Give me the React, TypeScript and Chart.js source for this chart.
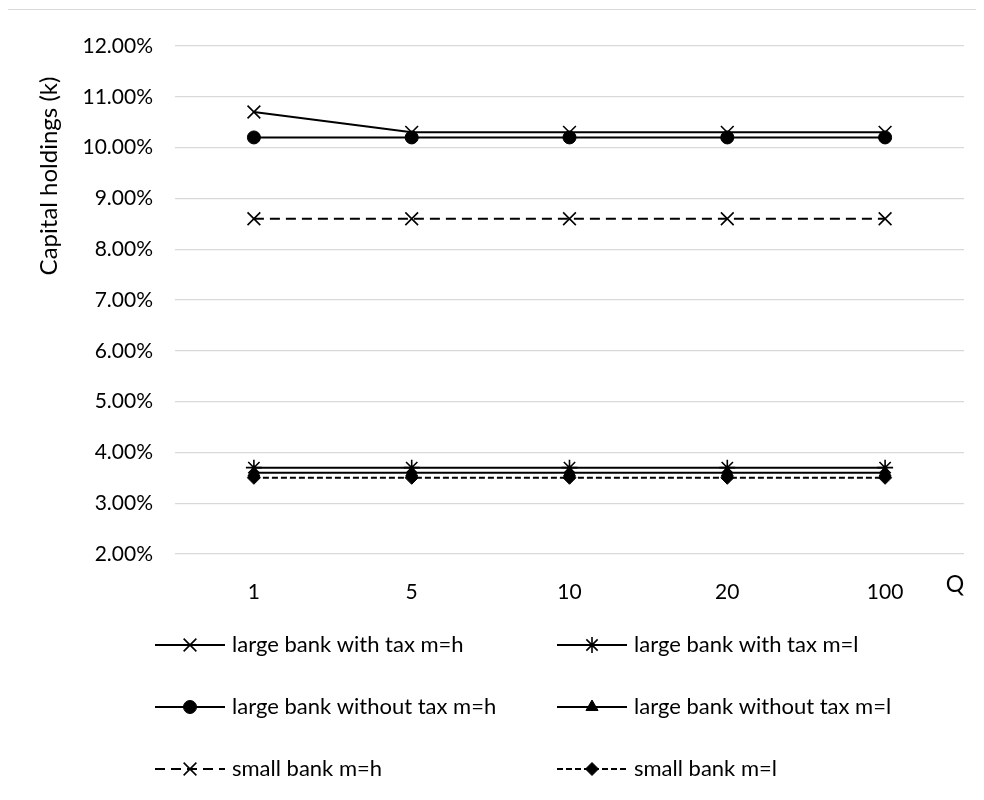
import React, { useEffect, useRef } from 'react';
import { Chart, registerables } from 'chart.js';
import { drawPoint } from 'chart.js/helpers';

Chart.register(...registerables);

const categories = ['1', '5', '10', '20', '100'];
const largeTaxH = [10.7, 10.3, 10.3, 10.3, 10.3];
const largeTaxL = [3.7, 3.7, 3.7, 3.7, 3.7];
const largeNoTaxH = [10.2, 10.2, 10.2, 10.2, 10.2];
const largeNoTaxL = [3.6, 3.6, 3.6, 3.6, 3.6];
const smallH = [8.6, 8.6, 8.6, 8.6, 8.6];
const smallL = [3.5, 3.5, 3.5, 3.5, 3.5];
const seriesLabels = [
  'large bank with tax m=h',
  'large bank with tax m=l',
  'large bank without tax m=h',
  'large bank without tax m=l',
  'small bank m=h',
  'small bank m=l',
];
const yMin = 2;
const yMax = 12;
const yStep = 1;
const yTitle = 'Capital holdings (k)';
const xTitle = 'Q';

const FONT = 'Lato, "Open Sans", sans-serif';
const TICK_FS = 21;
const LEG_FS = 22;
const TITLE_FS = 24;

const overlay = {
  id: 'overlay',
  afterDraw(chart: any) {
    const ctx = chart.ctx;
    ctx.save();
    ctx.fillStyle = '#000';
    // y title
    ctx.save();
    ctx.font = `${TITLE_FS}px ${FONT}`;
    ctx.translate(41, 168);
    ctx.rotate(-Math.PI / 2);
    ctx.textAlign = 'center';
    ctx.textBaseline = 'middle';
    ctx.fillText(yTitle, 0, 0);
    ctx.restore();
    // x title
    ctx.font = `${LEG_FS + 1}px ${FONT}`;
    ctx.textAlign = 'center';
    ctx.textBaseline = 'middle';
    ctx.fillText(xTitle, 947, 577);
    // legend
    ctx.font = `${LEG_FS}px ${FONT}`;
    ctx.textAlign = 'left';
    const colX = [147, 549];
    const rowY = [637, 699, 761];
    chart.data.datasets.forEach((ds: any, i: number) => {
      const x0 = colX[i % 2];
      const y = rowY[Math.floor(i / 2)];
      ctx.save();
      ctx.strokeStyle = ds.borderColor;
      ctx.lineWidth = ds.borderWidth;
      ctx.setLineDash(ds.borderDash || []);
      ctx.beginPath();
      ctx.moveTo(x0, y);
      ctx.lineTo(x0 + 70, y);
      ctx.stroke();
      ctx.setLineDash([]);
      ctx.fillStyle = ds.pointBackgroundColor;
      ctx.strokeStyle = ds.pointBorderColor;
      ctx.lineWidth = ds.pointBorderWidth;
      drawPoint(ctx, { pointStyle: ds.pointStyle, radius: ds.pointRadius, rotation: 0, borderWidth: ds.pointBorderWidth }, x0 + 35, y);
      ctx.restore();
      ctx.fillStyle = '#000';
      ctx.textBaseline = 'middle';
      ctx.fillText(ds.label, x0 + 77, y);
    });
    ctx.restore();
  },
};

function mk(label: string, data: number[], style: string, radius: number, dash: number[], filled: boolean) {
  return {
    label,
    data,
    borderColor: '#000',
    borderWidth: 2,
    borderDash: dash,
    pointStyle: style,
    pointRadius: radius,
    pointHoverRadius: radius,
    pointBackgroundColor: '#000',
    pointBorderColor: '#000',
    pointBorderWidth: filled ? 1 : 1.6,
    tension: 0,
    fill: false,
  };
}

export default function App() {
  const ref = useRef<HTMLCanvasElement>(null);
  useEffect(() => {
    if (!ref.current) return;
    const chart = new Chart(ref.current, {
      type: 'line',
      data: {
        labels: categories,
        datasets: [
          mk(seriesLabels[0], largeTaxH, 'crossRot', 9, [], false),
          mk(seriesLabels[1], largeTaxL, 'star', 8, [], false),
          mk(seriesLabels[2], largeNoTaxH, 'circle', 6.5, [], true),
          mk(seriesLabels[3], largeNoTaxL, 'triangle', 7, [], true),
          mk(seriesLabels[4], smallH, 'crossRot', 9, [10, 6], false),
          mk(seriesLabels[5], smallL, 'rectRot', 6.5, [6, 3], true),
        ],
      },
      options: {
        animation: false,
        responsive: false,
        devicePixelRatio: 1,
        events: [],
        layout: { padding: { top: 38, right: 20, left: 0, bottom: 0 } },
        plugins: { legend: { display: false }, tooltip: { enabled: false } },
        scales: {
          x: {
            type: 'category',
            offset: true,
            grid: { display: false },
            border: { display: false },
            ticks: { color: '#000', font: { family: FONT, size: TICK_FS }, padding: 18, maxRotation: 0 },
            afterFit: (s: any) => { s.height = 238; },
          },
          y: {
            min: yMin,
            max: yMax,
            grid: { color: '#d9d9d9', lineWidth: 1.3, drawTicks: false },
            border: { display: false },
            ticks: {
              stepSize: yStep,
              color: '#000',
              font: { family: FONT, size: TICK_FS },
              padding: 22,
              callback: (v: any) => Number(v).toFixed(2) + '%',
            },
            afterFit: (s: any) => { s.width = 167; },
          },
        },
      },
      plugins: [overlay],
    });
    return () => chart.destroy();
  }, []);
  return (
    <div style={{ position: 'relative', width: 976, height: 784, overflow: 'hidden' }}>
      <div style={{ position: 'absolute', left: -2, top: 1, width: 1200, height: 1000, border: '1px solid #d9d9d9', boxSizing: 'border-box' }} />
      <canvas ref={ref} width={976} height={784} style={{ position: 'absolute', left: 0, top: 0, width: 976, height: 784 }} />
    </div>
  );
}
